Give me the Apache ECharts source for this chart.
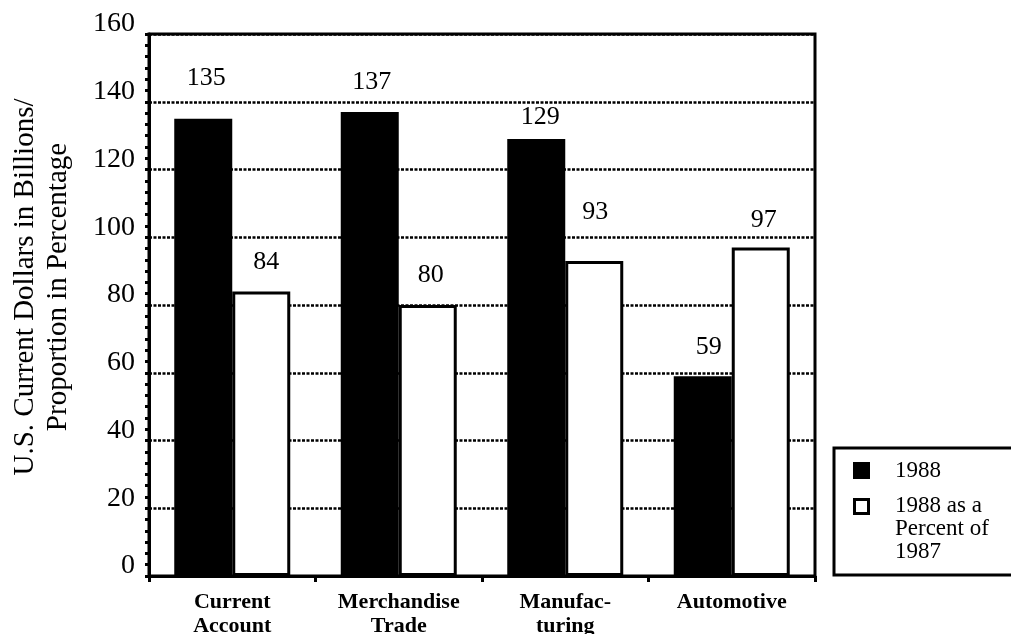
<!DOCTYPE html>
<html>
<head>
<meta charset="utf-8">
<style>
  html, body { margin: 0; padding: 0; background: #fff; }
  #chart { width: 1011px; height: 634px; }
</style>
<script src="https://cdn.jsdelivr.net/npm/echarts@6/dist/echarts.min.js"></script>
</head>
<body>
<div id="chart"></div>
<script>
// Category names under each pair of bars
const categories = ['Current\nAccount', 'Merchandise\nTrade', 'Manufac-\nturing', 'Automotive'];
// 1988 values, US$ billions
const values1988 = [135, 137, 129, 59];
// 1988 as a percent of 1987
const percentOf1987 = [84, 80, 93, 97];
// Value axis ticks
const yMin = 0, yMax = 160, yStep = 20;

const SERIF = '"Liberation Serif", "Times New Roman", serif';

// Hand placement of each value label: [distance above bar, sideways nudge]
const nudge1988 = [[28, 3], [17, 2], [9, 4], [16, 6]];
const nudgePct = [[16, 5], [17, 3], [36, 1], [14, 3]];

function withLabels(values, nudges) {
  return values.map((v, i) => ({
    value: v,
    label: { distance: nudges[i][0], offset: [nudges[i][1], 0] }
  }));
}

const chart = echarts.init(document.getElementById('chart'), null, { renderer: 'canvas' });

const valueLabel = {
  show: true,
  position: 'top',
  color: '#000',
  fontFamily: SERIF,
  fontSize: 26
};

chart.setOption({
  animation: false,
  backgroundColor: '#fff',
  grid: {
    left: 149, right: 196, top: 34, bottom: 58,
    outerBoundsMode: 'none',
    containLabel: false,
    show: true, borderColor: '#000', borderWidth: 3
  },
  xAxis: {
    type: 'category',
    data: categories,
    axisLine: { lineStyle: { color: '#000', width: 3 } },
    axisTick: { show: true, length: 6, lineStyle: { color: '#000', width: 3 } },
    axisLabel: {
      interval: 0, margin: 14, color: '#000',
      fontFamily: SERIF, fontSize: 22, fontWeight: 'bold', lineHeight: 24
    },
    splitLine: { show: false }
  },
  yAxis: {
    type: 'value',
    min: yMin, max: yMax, interval: yStep,
    axisLine: { show: true, lineStyle: { color: '#000', width: 3 } },
    axisTick: { show: true, length: 4, lineStyle: { color: '#000', width: 3 } },
    minorTick: { show: true, splitNumber: 6, length: 4, lineStyle: { color: '#000', width: 3 } },
    axisLabel: {
      margin: 14, color: '#000', fontFamily: SERIF, fontSize: 28,
      verticalAlign: 'bottom', lineHeight: 20
    },
    splitLine: { show: true, lineStyle: { color: '#000', width: 2.5, type: [3, 1.5] } }
  },
  series: [
    {
      name: '1988',
      type: 'bar',
      barWidth: 58,
      barGap: '0%',
      data: withLabels(values1988, nudge1988),
      itemStyle: { color: '#000' },
      label: valueLabel
    },
    {
      name: '1988 as a Percent of 1987',
      type: 'bar',
      barWidth: 58,
      barGap: '0%',
      data: withLabels(percentOf1987, nudgePct),
      itemStyle: { color: '#fff', borderColor: '#000', borderWidth: 3 },
      label: valueLabel
    }
  ],
  graphic: [
    // Value axis title, two lines reading bottom to top
    {
      type: 'text',
      x: 42, y: 287,
      rotation: Math.PI / 2,
      style: {
        text: 'U.S. Current Dollars in Billions/\nProportion in Percentage',
        fill: '#000',
        font: '29px ' + SERIF,
        align: 'center',
        verticalAlign: 'middle',
        lineHeight: 33
      }
    },
    // Legend box
    {
      type: 'rect',
      shape: { x: 834, y: 448, width: 200, height: 127 },
      style: { fill: '#fff', stroke: '#000', lineWidth: 3 }
    },
    {
      type: 'rect',
      shape: { x: 853, y: 462, width: 17, height: 17 },
      style: { fill: '#000' }
    },
    {
      type: 'text',
      x: 895, y: 471,
      style: { text: '1988', fill: '#000', font: '23px ' + SERIF, align: 'left', verticalAlign: 'middle' }
    },
    {
      type: 'rect',
      shape: { x: 854.5, y: 499.5, width: 14, height: 14 },
      style: { fill: '#fff', stroke: '#000', lineWidth: 3 }
    },
    {
      type: 'text',
      x: 895, y: 494,
      style: {
        text: '1988 as a\nPercent of\n1987',
        fill: '#000', font: '23px ' + SERIF,
        align: 'left', verticalAlign: 'top', lineHeight: 23
      }
    }
  ]
});
</script>
</body>
</html>
